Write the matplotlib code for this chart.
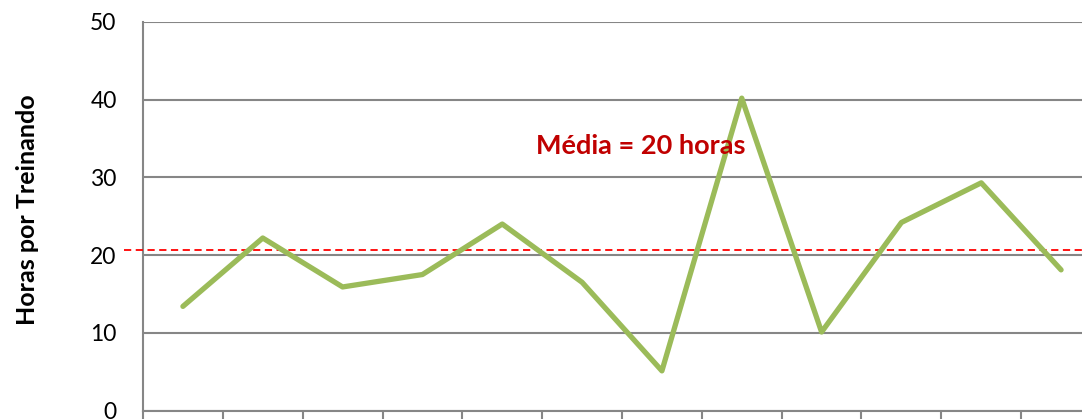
import matplotlib.pyplot as plt

# Horas de treinamento por treinando, 12 periodos
periodos = list(range(1, 13))
horas = [13.4, 22.2, 15.9, 17.5, 24.0, 16.5, 5.1, 40.2, 10.1, 24.2, 29.3, 18.1]
linha_media = 20.6
texto_media = "Média = 20 horas"
y_ticks = [0, 10, 20, 30, 40, 50]

plt.rcParams['font.family'] = ['Lato', 'DejaVu Sans']

W, H = 1082, 419
fig = plt.figure(figsize=(W / 100, H / 100), dpi=100)
# axes runs past the right edge of the figure, like a cropped sheet
left, right = 143, 1101
top, bottom = 22, 410.5
ax = fig.add_axes([left / W, (H - bottom) / H, (right - left) / W, (bottom - top) / H])

grid_color = '#868686'
ax.plot(periodos, horas, color='#9BBB59', linewidth=3.8, solid_capstyle='round',
        solid_joinstyle='round', zorder=4)

ax.set_xlim(0.5, 12.5)
ax.set_ylim(0, 50)
ax.set_yticks(y_ticks)
ax.set_xticks([0.5 + i for i in range(13)])
ax.set_xticklabels([])
ax.tick_params(axis='y', length=0, pad=19, labelsize=16.5, labelcolor='black')
ax.tick_params(axis='x', length=10, width=1.5, color=grid_color, direction='out')

ax.grid(True, axis='y', color=grid_color, linewidth=1.5, zorder=1)
ax.set_axisbelow(True)
for side in ['top', 'right']:
    ax.spines[side].set_visible(False)
for side in ['left', 'bottom']:
    ax.spines[side].set_color(grid_color)
    ax.spines[side].set_linewidth(1.5)

# linha tracejada da media, sai um pouco para a esquerda do eixo
ax.plot([-0.02, 1.0], [linha_media, linha_media], transform=ax.get_yaxis_transform(),
        color='#FF0000', linestyle=(0, (4, 2.5)), linewidth=1.3, clip_on=False, zorder=3)

ax.text(6.73, 34.1, texto_media, color='#C00000', fontsize=19.5, fontweight='bold',
        ha='center', va='center', zorder=5)

fig.text(28 / W, 1 - 209.5 / H, "Horas por Treinando", rotation=90, fontsize=18,
         fontweight='bold', ha='center', va='center')

fig.savefig('out.png', dpi=100)
